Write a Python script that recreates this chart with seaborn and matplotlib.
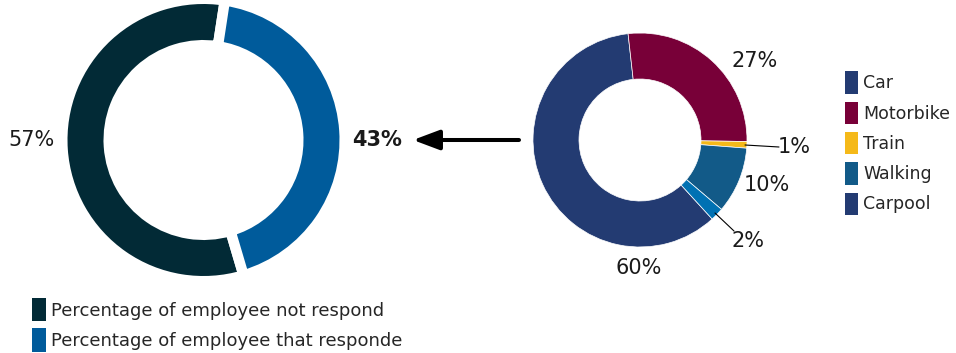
import matplotlib
matplotlib.use("Agg")
import matplotlib.pyplot as plt
from matplotlib.patches import Patch
import seaborn as sns

# Survey response share
response_labels = ["Percentage of employee not respond",
                   "Percentage of employee that responde"]
response_values = [57, 43]
response_colors = ["#022a36", "#005b9b"]

# Commute mode share among respondents
modes = ["Car", "Motorbike", "Train", "Walking", "Carpool"]
mode_values = [60, 27, 1, 10, 2]
mode_colors = ["#233b72", "#780038", "#f5b919", "#125a88", "#0071b3"]
mode_legend_colors = ["#233b72", "#780038", "#f5b919", "#125a88", "#233b72"]

sns.set_theme(style="white")
plt.rcParams["font.family"] = ["DejaVu Sans"]

W, H = 956, 353
fig = plt.figure(figsize=(W / 100, H / 100), dpi=100)
ax = fig.add_axes([0, 0, 1, 1])


def px(x, y):
    """Pixel position measured from the top-left corner -> data coords."""
    return x, H - y


# Left donut: response rate, separated by wide white gaps
gap_pt = 7.5
gap_px = gap_pt * 100 / 72
left_c, left_r = px(203.5, 140), 136 + gap_px / 2
ax.pie(response_values, colors=response_colors, center=left_c, radius=left_r,
       startangle=90 - 8.7 - response_values[1] * 3.6, counterclock=False,
       wedgeprops=dict(width=36 + gap_px, edgecolor="white",
                       linewidth=gap_pt))

# Right donut: commute modes
right_c, right_r = px(640, 140), 107
ax.pie(mode_values, colors=mode_colors, center=right_c, radius=right_r,
       startangle=-47.6, counterclock=False,
       wedgeprops=dict(width=46, edgecolor="white", linewidth=0.5))

ax.set_xlim(0, W)
ax.set_ylim(0, H)
ax.set_aspect("equal")
ax.axis("off")

label_kw = dict(ha="center", va="center", fontsize=15, color="#1a1a1a")

# Left donut labels
ax.text(*px(32, 140), f"{response_values[0]}%", **label_kw)
ax.text(*px(377, 140), f"{response_values[1]}%", fontweight="bold", **label_kw)

# Arrow linking the modes chart to the responding share
ax.annotate("", xy=px(413, 140), xytext=px(519, 140),
            arrowprops=dict(arrowstyle="-|>,head_length=0.8,head_width=0.3",
                            color="black", lw=2.9, mutation_scale=20,
                            shrinkA=0, shrinkB=0))

# Right donut labels
mode_label_pos = [(639, 268), (755, 61), (794, 147), (767, 185), (748, 241)]
for v, (x, y) in zip(mode_values, mode_label_pos):
    ax.text(*px(x, y), f"{v}%", **label_kw)

# Leader lines for the thin slices
ax.plot(*zip(px(745, 145), px(779, 147)), color="black", lw=0.8)
ax.plot(*zip(px(715, 213), px(734, 231)), color="black", lw=0.8)

# Legends
mode_handles = [Patch(facecolor=c, edgecolor="none") for c in mode_legend_colors]
fig.legend(mode_handles, modes, loc="upper left",
           bbox_to_anchor=(838 / W, 1 - 64.5 / H), frameon=False,
           fontsize=12.5, handlelength=0.75, handleheight=1.6,
           handletextpad=0.3, labelspacing=0.46, borderaxespad=0,
           labelcolor="#262626")

resp_handles = [Patch(facecolor=c, edgecolor="none") for c in response_colors]
fig.legend(resp_handles, response_labels, loc="upper left",
           bbox_to_anchor=(25 / W, 1 - 291 / H), frameon=False,
           fontsize=13, handlelength=0.75, handleheight=1.6,
           handletextpad=0.3, labelspacing=0.39, borderaxespad=0,
           labelcolor="#262626")

fig.savefig("out.png", dpi=100)
